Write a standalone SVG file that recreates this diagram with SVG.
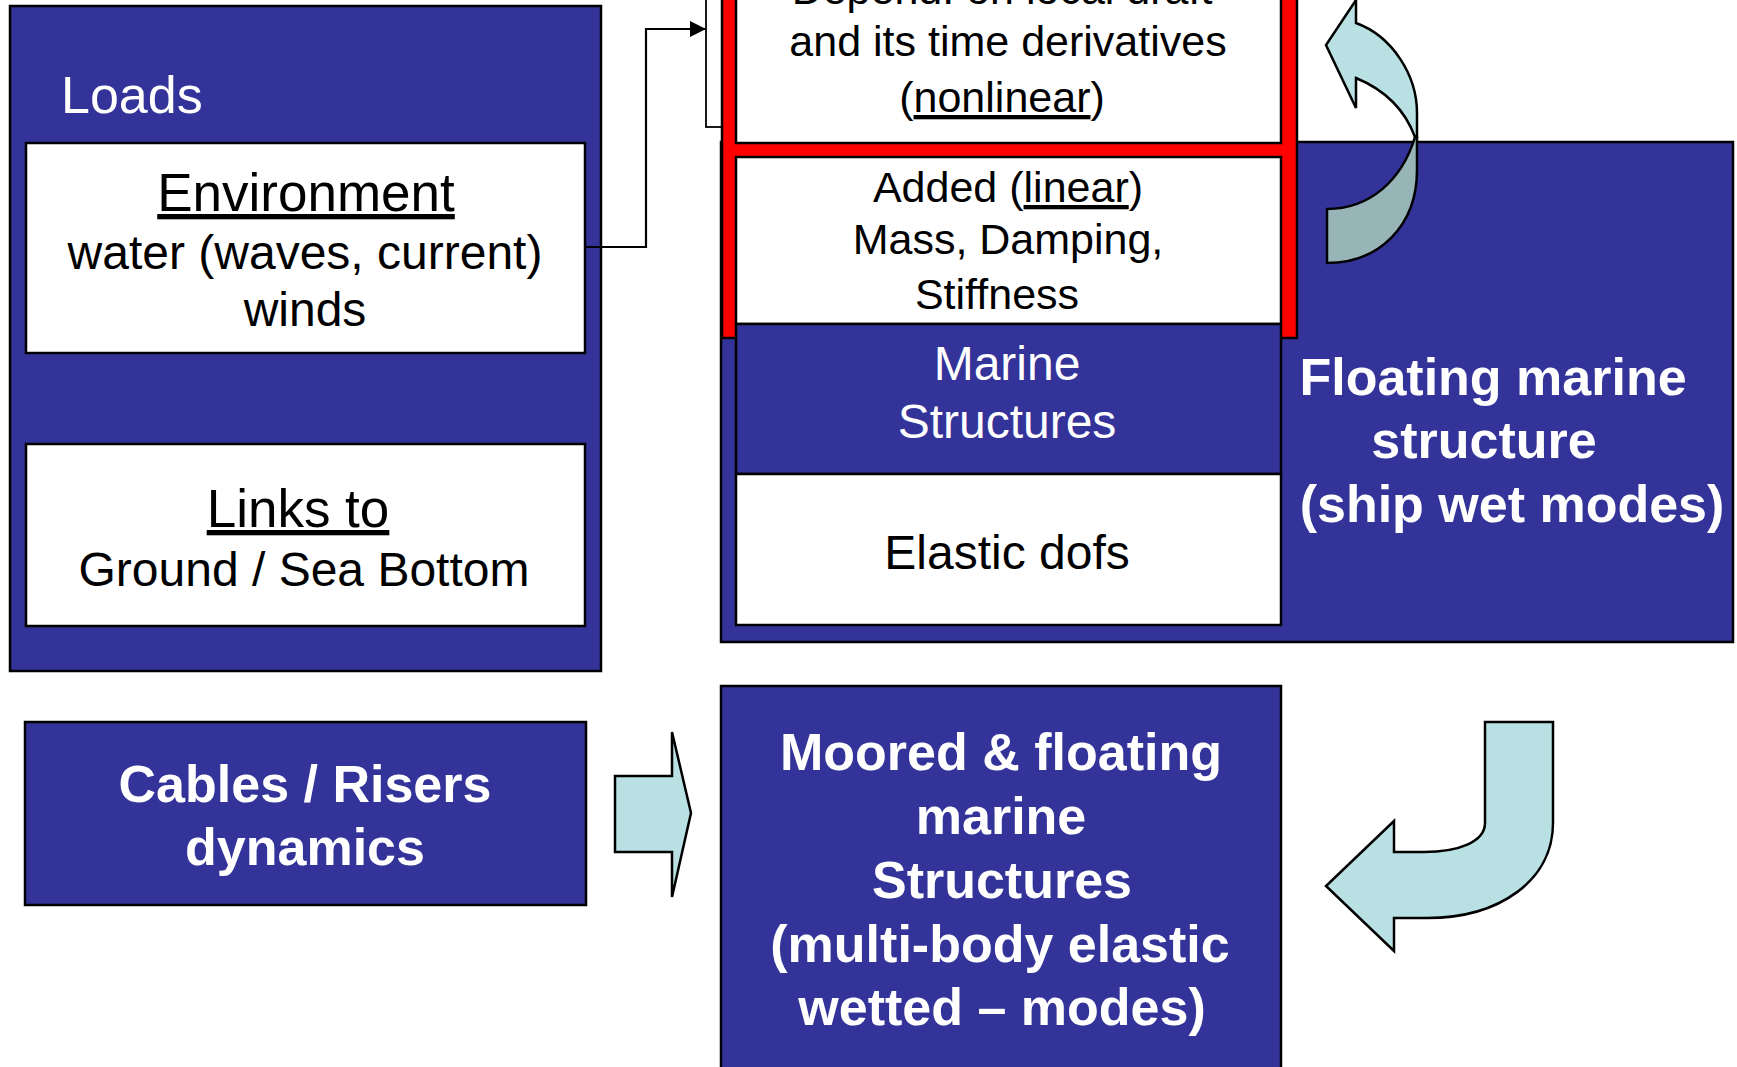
<svg xmlns="http://www.w3.org/2000/svg" width="1737" height="1067" viewBox="0 0 1737 1067">
<defs>
<style>
text { font-family: "Liberation Sans", Arial, sans-serif; }
.blue { fill: #333399; stroke: #000; stroke-width: 2.5; }
.white { fill: #fff; stroke: #000; stroke-width: 2.5; }
.reg { fill: #000; text-anchor: middle; }
.wreg { fill: #fff; text-anchor: middle; font-size: 48px; }
.bold { fill: #fff; text-anchor: middle; font-weight: bold; font-size: 52px; }
.arrowfill { fill: #B9E0E3; stroke: #000; stroke-width: 2.5; stroke-linejoin: miter; }
.u { text-decoration: underline; }
</style>
<marker id="ah" markerWidth="16" markerHeight="16" refX="16" refY="8" orient="auto" markerUnits="userSpaceOnUse">
<path d="M0,0 L16,8 L0,16 Z" fill="#000"/>
</marker>
</defs>
<rect x="0" y="0" width="1737" height="1067" fill="#fff"/>

<g id="loads">
<rect class="blue" x="10" y="6" width="591" height="665"/>
<text x="61" y="113" font-size="52" fill="#fff">Loads</text>
</g>

<g id="environment">
<rect class="white" x="26" y="143" width="559" height="210"/>
<text class="reg" x="306" y="211" font-size="53"><tspan class="u">Environment</tspan></text>
<text class="reg" x="305" y="269" font-size="48">water (waves, current)</text>
<text class="reg" x="305" y="326" font-size="48">winds</text>
</g>

<g id="links">
<rect class="white" x="26" y="444" width="559" height="182"/>
<text class="reg" x="298" y="527" font-size="53"><tspan class="u">Links to</tspan></text>
<text class="reg" x="304" y="586" font-size="48">Ground / Sea Bottom</text>
</g>

<g id="cables">
<rect class="blue" x="25" y="722" width="561" height="183"/>
<text class="bold" x="305" y="802">Cables / Risers</text>
<text class="bold" x="305" y="865">dynamics</text>
</g>

<g id="floating">
<rect class="blue" x="721" y="142" width="1012" height="500"/>
<text class="bold" x="1493" y="395">Floating marine</text>
<text class="bold" x="1484" y="458">structure</text>
<text class="bold" x="1512" y="522">(ship wet modes)</text>
</g>

<g id="backbox">
<rect x="706" y="-10" width="591" height="137" fill="#fff" stroke="#000" stroke-width="1.8"/>
</g>

<g id="redframe">
<rect x="722" y="-20" width="575" height="358" fill="#ff0000" stroke="#000" stroke-width="2.5"/>
</g>

<g id="depend">
<rect class="white" x="736" y="-20" width="545" height="163"/>
<text class="reg" x="1002" y="4" font-size="43">Depend: on local draft</text>
<text class="reg" x="1008" y="56" font-size="43">and its time derivatives</text>
<text class="reg" x="1002" y="112" font-size="43">(<tspan class="u">nonlinear</tspan>)</text>
</g>

<g id="added">
<rect class="white" x="736" y="157" width="545" height="167"/>
<text class="reg" x="1008" y="202" font-size="43">Added (<tspan class="u">linear</tspan>)</text>
<text class="reg" x="1008" y="254" font-size="43">Mass, Damping,</text>
<text class="reg" x="997" y="309" font-size="43">Stiffness</text>
</g>

<g id="marine">
<rect class="blue" x="736" y="324" width="545" height="150"/>
<text class="wreg" x="1007" y="380">Marine</text>
<text class="wreg" x="1007" y="438">Structures</text>
</g>

<g id="elastic">
<rect class="white" x="736" y="474" width="545" height="151"/>
<text class="reg" x="1007" y="569" font-size="48">Elastic dofs</text>
</g>

<g id="moored">
<rect class="blue" x="721" y="686" width="560" height="400"/>
<text class="bold" x="1001" y="770">Moored &amp; floating</text>
<text class="bold" x="1001" y="834">marine</text>
<text class="bold" x="1002" y="898">Structures</text>
<text class="bold" x="1000" y="962">(multi-body elastic</text>
<text class="bold" x="1002" y="1025">wetted – modes)</text>
</g>

<g id="connectors">
<polyline points="585,247 646,247 646,29 706,29" fill="none" stroke="#000" stroke-width="2.2" marker-end="url(#ah)"/>
<path class="arrowfill" d="M615,776 L672,776 L672,732 L691,813 L672,897 L672,852 L615,852 Z"/>
<path class="arrowfill" d="M1485,722 L1553,722 L1553,823 C1553,880 1500,918 1427,918 L1394,918 L1394,951 L1326,886 L1394,821 L1394,852 L1424,852 C1458,852 1485,842 1485,823 Z"/>
<path d="M1415,137 C1402,180 1370,209 1327,209 L1327,263 C1380,263 1417,225 1417,170 L1417,137 Z" fill="#97B4B6" stroke="#000" stroke-width="2.5" stroke-linejoin="round"/>
<path class="arrowfill" d="M1356,23 C1392,36 1417,75 1417,113 L1417,137 L1415,137 C1405,110 1385,90 1356,78 L1356,108 L1326,45 L1356,0 Z"/>
</g>
</svg>
